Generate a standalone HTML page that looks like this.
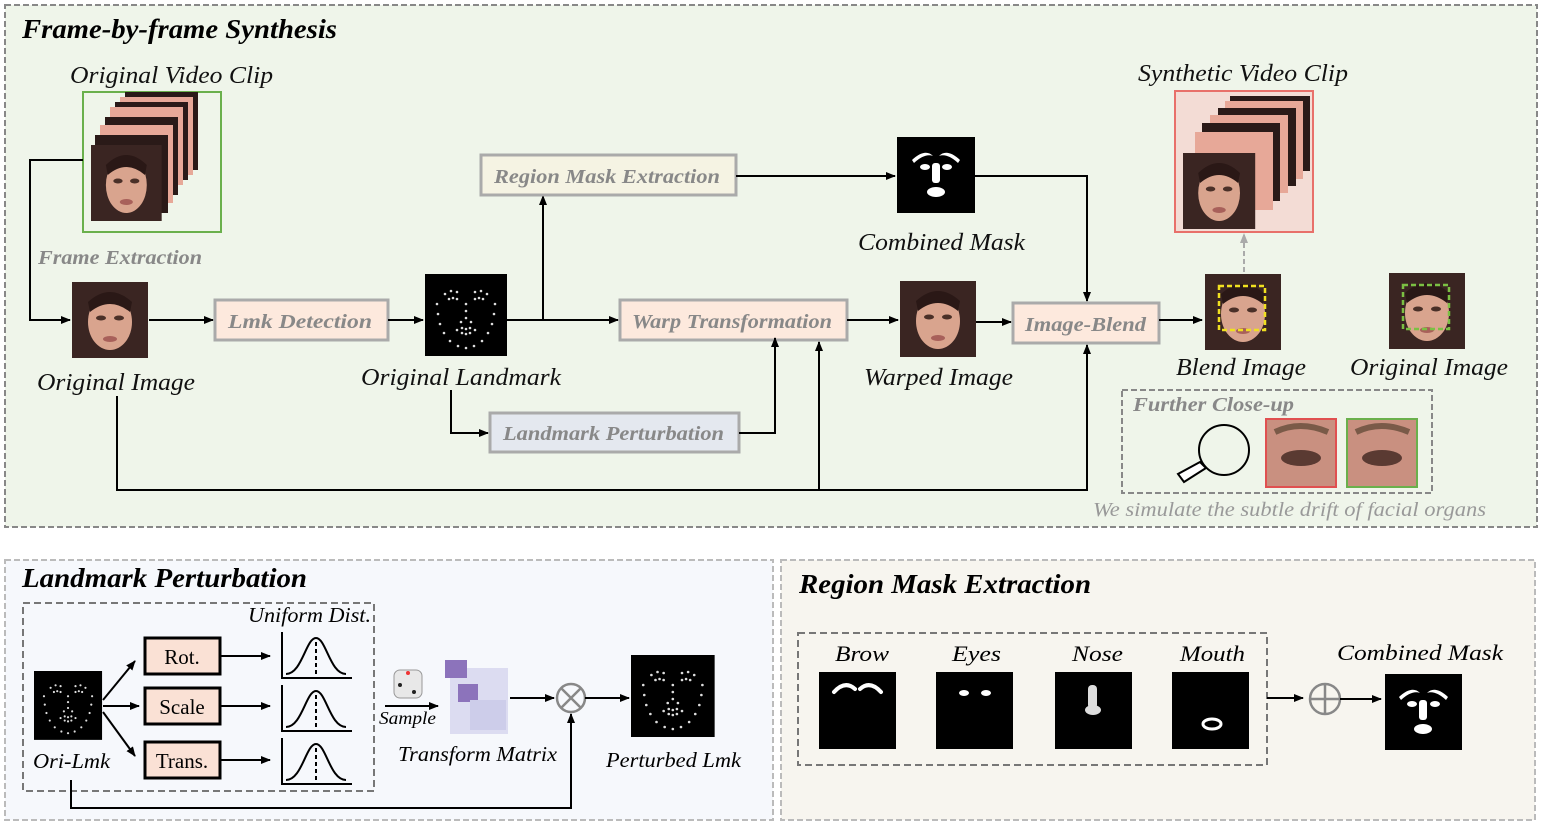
<!DOCTYPE html>
<html><head><meta charset="utf-8"><style>
html,body{margin:0;padding:0;background:#fff}
svg{display:block}
text{font-family:"Liberation Serif",serif;font-style:italic}
.t{font-size:24px;fill:#111}
.b{font-weight:bold;fill:#888;font-size:20px}
.h{font-weight:bold;font-size:27px;fill:#000}
.n{font-style:normal;font-size:21px;fill:#000}
</style></head><body>
<svg width="1550" height="831" viewBox="0 0 1550 831" xmlns="http://www.w3.org/2000/svg">
<defs>
<marker id="a" markerWidth="10" markerHeight="10" refX="9" refY="5" orient="auto" markerUnits="userSpaceOnUse"><path d="M0,1 L10,5 L0,9 z" fill="#000"/></marker>
<marker id="g" markerWidth="10" markerHeight="10" refX="9" refY="5" orient="auto" markerUnits="userSpaceOnUse"><path d="M0,1 L10,5 L0,9 z" fill="#aaa"/></marker>
<g id="face">
<rect width="76" height="76" fill="#3a2522"/>
<ellipse cx="38" cy="40" rx="22" ry="28" fill="#d9a48e"/>
<path d="M16,20 Q38,0 60,20 L58,30 Q38,14 18,30z" fill="#2a1816"/>
<ellipse cx="29" cy="36" rx="5" ry="2.5" fill="#4a3028"/><ellipse cx="47" cy="36" rx="5" ry="2.5" fill="#4a3028"/>
<ellipse cx="38" cy="57" rx="7" ry="3" fill="#a8605a"/>
</g>
<g id="lmk" fill="#fff">
<rect width="82" height="82" fill="#000"/>
<g fill="#ddd">
<circle cx="12" cy="30" r="1.3"/><circle cx="13" cy="40" r="1.3"/><circle cx="15" cy="50" r="1.3"/><circle cx="19" cy="59" r="1.3"/><circle cx="25" cy="67" r="1.3"/><circle cx="33" cy="72" r="1.3"/><circle cx="41" cy="74" r="1.3"/><circle cx="49" cy="72" r="1.3"/><circle cx="57" cy="67" r="1.3"/><circle cx="63" cy="59" r="1.3"/><circle cx="67" cy="50" r="1.3"/><circle cx="69" cy="40" r="1.3"/><circle cx="70" cy="30" r="1.3"/>
<circle cx="20" cy="20" r="1.3"/><circle cx="26" cy="17" r="1.3"/><circle cx="32" cy="18" r="1.3"/><circle cx="50" cy="18" r="1.3"/><circle cx="56" cy="17" r="1.3"/><circle cx="62" cy="20" r="1.3"/>
<circle cx="24" cy="25" r="1.3"/><circle cx="28" cy="24" r="1.3"/><circle cx="32" cy="25" r="1.3"/><circle cx="50" cy="25" r="1.3"/><circle cx="54" cy="24" r="1.3"/><circle cx="58" cy="25" r="1.3"/>
<circle cx="41" cy="30" r="1.3"/><circle cx="41" cy="37" r="1.3"/><circle cx="41" cy="44" r="1.3"/><circle cx="36" cy="48" r="1.3"/><circle cx="46" cy="48" r="1.3"/>
<circle cx="32" cy="56" r="1.3"/><circle cx="37" cy="54" r="1.3"/><circle cx="41" cy="55" r="1.3"/><circle cx="45" cy="54" r="1.3"/><circle cx="50" cy="56" r="1.3"/><circle cx="37" cy="59" r="1.3"/><circle cx="41" cy="60" r="1.3"/><circle cx="45" cy="59" r="1.3"/>
</g></g>
<g id="gau"><path d="M2,0 V46 H72" fill="none" stroke="#000" stroke-width="2"/><path d="M6,42 C22,42 26,6 36,6 C46,6 50,42 66,42" fill="none" stroke="#000" stroke-width="2"/><path d="M36,10 V42" stroke="#000" stroke-width="2" stroke-dasharray="4,3"/></g>
</defs>

<!-- top panel -->
<rect x="5" y="5" width="1532" height="522" fill="#eff5ea" stroke="#888" stroke-width="2" stroke-dasharray="6,3"/>
<text x="22" y="38" class="h" textLength="315" lengthAdjust="spacingAndGlyphs">Frame-by-frame Synthesis</text>
<text x="70" y="83" class="t" textLength="203" lengthAdjust="spacingAndGlyphs">Original Video Clip</text>
<rect x="83" y="92" width="138" height="140" fill="#eff5ea" stroke="#6ab04c" stroke-width="2"/>
<g><rect x="125" y="92" width="73" height="78" fill="#2a1a18"/><rect x="120" y="97" width="73" height="78" fill="#e7a898"/><rect x="115" y="102" width="73" height="78" fill="#2a1a18"/><rect x="110" y="107" width="73" height="78" fill="#e7a898"/><rect x="105" y="117" width="73" height="78" fill="#2a1a18"/><rect x="100" y="125" width="73" height="78" fill="#e7a898"/><rect x="95" y="135" width="73" height="78" fill="#2a1a18"/>
<use href="#face" transform="translate(91,145) scale(0.93,1)"/></g>
<path d="M83,160 H30 V320 H70" fill="none" stroke="#000" stroke-width="2" marker-end="url(#a)"/>
<text x="38" y="264" class="b" textLength="164" lengthAdjust="spacingAndGlyphs">Frame Extraction</text>
<use href="#face" x="72" y="282"/>
<text x="37" y="390" class="t" textLength="158" lengthAdjust="spacingAndGlyphs">Original Image</text>
<path d="M149,320 H213" stroke="#000" stroke-width="2" marker-end="url(#a)"/>
<rect x="215" y="300" width="173" height="40" fill="#fde9dd" stroke="#aaa" stroke-width="3"/>
<text x="228" y="328" class="b" textLength="144" lengthAdjust="spacingAndGlyphs">Lmk Detection</text>
<path d="M388,320 H423" stroke="#000" stroke-width="2" marker-end="url(#a)"/>
<use href="#lmk" x="425" y="274"/>
<text x="361" y="385" class="t" textLength="200" lengthAdjust="spacingAndGlyphs">Original Landmark</text>
<path d="M507,320 H618" stroke="#000" stroke-width="2" marker-end="url(#a)"/>
<path d="M543,320 V196" stroke="#000" stroke-width="2" marker-end="url(#a)"/>
<rect x="481" y="155" width="255" height="40" fill="#f5f3e3" stroke="#aaa" stroke-width="3"/>
<text x="494" y="183" class="b" textLength="226" lengthAdjust="spacingAndGlyphs">Region Mask Extraction</text>
<path d="M736,176 H895" stroke="#000" stroke-width="2" marker-end="url(#a)"/>
<rect x="897" y="137" width="78" height="76" fill="#000"/>
<g fill="#fff"><path d="M912,160 Q925,148 933,156 Q925,153 914,163z"/><path d="M960,160 Q947,148 939,156 Q947,153 958,163z"/><ellipse cx="925" cy="167" rx="5" ry="3"/><ellipse cx="947" cy="167" rx="5" ry="3"/><rect x="932" y="163" width="8" height="20" rx="3"/><ellipse cx="936" cy="192" rx="9" ry="5"/></g>
<text x="858" y="250" class="t" textLength="167" lengthAdjust="spacingAndGlyphs">Combined Mask</text>
<path d="M975,176 H1087 V301" fill="none" stroke="#000" stroke-width="2" marker-end="url(#a)"/>
<rect x="620" y="300" width="227" height="40" fill="#fde9dd" stroke="#aaa" stroke-width="3"/>
<text x="632" y="328" class="b" textLength="200" lengthAdjust="spacingAndGlyphs">Warp Transformation</text>
<path d="M847,320 H898" stroke="#000" stroke-width="2" marker-end="url(#a)"/>
<use href="#face" x="900" y="281"/>
<text x="864" y="385" class="t" textLength="149" lengthAdjust="spacingAndGlyphs">Warped Image</text>
<path d="M976,322 H1011" stroke="#000" stroke-width="2" marker-end="url(#a)"/>
<rect x="1013" y="303" width="146" height="40" fill="#fde9dd" stroke="#aaa" stroke-width="3"/>
<text x="1025" y="331" class="b" textLength="121" lengthAdjust="spacingAndGlyphs">Image-Blend</text>
<path d="M1159,320 H1202" stroke="#000" stroke-width="2" marker-end="url(#a)"/>
<use href="#face" x="1205" y="274"/>
<rect x="1219" y="286" width="46" height="44" fill="none" stroke="#f0e020" stroke-width="2.5" stroke-dasharray="5,3"/>
<path d="M1244,272 V234" stroke="#aaa" stroke-width="2" stroke-dasharray="5,3" marker-end="url(#g)"/>
<text x="1176" y="375" class="t" textLength="130" lengthAdjust="spacingAndGlyphs">Blend Image</text>
<text x="1138" y="81" class="t" textLength="210" lengthAdjust="spacingAndGlyphs">Synthetic Video Clip</text>
<rect x="1175" y="91" width="138" height="141" fill="#f3dcd5" stroke="#e8706a" stroke-width="2"/>
<g><rect x="1230" y="96" width="80" height="75" fill="#2a1a18"/><rect x="1225" y="101" width="78" height="78" fill="#e7a898"/><rect x="1218" y="108" width="78" height="78" fill="#2a1a18"/><rect x="1210" y="115" width="78" height="78" fill="#e7a898"/><rect x="1202" y="123" width="78" height="78" fill="#2a1a18"/><rect x="1195" y="132" width="78" height="78" fill="#e7a898"/>
<use href="#face" transform="translate(1183,153) scale(0.95,1)"/></g>
<use href="#face" x="1389" y="273"/>
<rect x="1403" y="285" width="46" height="44" fill="none" stroke="#7bc043" stroke-width="2.5" stroke-dasharray="5,3"/>
<text x="1350" y="375" class="t" textLength="158" lengthAdjust="spacingAndGlyphs">Original Image</text>
<path d="M451,390 V433 H488" fill="none" stroke="#000" stroke-width="2" marker-end="url(#a)"/>
<rect x="490" y="413" width="249" height="39" fill="#e4e8ef" stroke="#aaa" stroke-width="3"/>
<text x="503" y="440" class="b" textLength="221" lengthAdjust="spacingAndGlyphs">Landmark Perturbation</text>
<path d="M739,433 H775 V338" fill="none" stroke="#000" stroke-width="2" marker-end="url(#a)"/>
<path d="M117,396 V490 H1087 V345" fill="none" stroke="#000" stroke-width="2" marker-end="url(#a)"/>
<path d="M819,490 V342" fill="none" stroke="#000" stroke-width="2" marker-end="url(#a)"/>
<rect x="1122" y="390" width="310" height="103" fill="none" stroke="#888" stroke-width="2" stroke-dasharray="6,3"/>
<text x="1133" y="411" class="b" textLength="161" lengthAdjust="spacingAndGlyphs">Further Close-up</text>
<circle cx="1224" cy="450" r="25" fill="none" stroke="#000" stroke-width="2"/>
<path d="M1206,468 L1184,482 L1178,474 L1200,462z" fill="#fff" stroke="#000" stroke-width="2"/>
<rect x="1266" y="419" width="70" height="68" fill="#c99080" stroke="#e05050" stroke-width="2"/>
<ellipse cx="1301" cy="458" rx="20" ry="8" fill="#5a3a32"/><path d="M1275,432 Q1300,420 1328,432" stroke="#7a5a48" stroke-width="6" fill="none"/>
<rect x="1347" y="419" width="70" height="68" fill="#c99080" stroke="#6ab04c" stroke-width="2"/>
<ellipse cx="1382" cy="458" rx="20" ry="8" fill="#5a3a32"/><path d="M1356,432 Q1381,420 1409,432" stroke="#7a5a48" stroke-width="6" fill="none"/>
<text x="1093" y="516" style="font-size:20px;fill:#999" textLength="393" lengthAdjust="spacingAndGlyphs">We simulate the subtle drift of facial organs</text>

<!-- bottom left -->
<rect x="5" y="560" width="768" height="260" fill="#f6f8fc" stroke="#bbb" stroke-width="2" stroke-dasharray="6,3"/>
<text x="22" y="587" class="h" textLength="285" lengthAdjust="spacingAndGlyphs">Landmark Perturbation</text>
<rect x="23" y="603" width="351" height="188" fill="none" stroke="#777" stroke-width="2" stroke-dasharray="7,4"/>
<text x="248" y="622" style="font-size:21px;fill:#000" textLength="123" lengthAdjust="spacingAndGlyphs">Uniform Dist.</text>
<use href="#lmk" transform="translate(34,671) scale(0.83,0.84)"/>
<text x="33" y="768" style="font-size:21px;fill:#000" textLength="77" lengthAdjust="spacingAndGlyphs">Ori-Lmk</text>
<path d="M103,700 L135,661" stroke="#000" stroke-width="2" marker-end="url(#a)"/>
<path d="M103,706 H139" stroke="#000" stroke-width="2" marker-end="url(#a)"/>
<path d="M103,712 L135,756" stroke="#000" stroke-width="2" marker-end="url(#a)"/>
<rect x="145" y="638" width="75" height="36" fill="#fae1d5" stroke="#000" stroke-width="3"/><text x="182" y="664" class="n" text-anchor="middle">Rot.</text>
<rect x="145" y="688" width="75" height="36" fill="#fae1d5" stroke="#000" stroke-width="3"/><text x="182" y="714" class="n" text-anchor="middle">Scale</text>
<rect x="145" y="742" width="75" height="36" fill="#fae1d5" stroke="#000" stroke-width="3"/><text x="182" y="768" class="n" text-anchor="middle">Trans.</text>
<path d="M220,656 H270" stroke="#000" stroke-width="2" marker-end="url(#a)"/>
<path d="M220,706 H270" stroke="#000" stroke-width="2" marker-end="url(#a)"/>
<path d="M220,760 H270" stroke="#000" stroke-width="2" marker-end="url(#a)"/>
<use href="#gau" x="280" y="632"/>
<use href="#gau" x="280" y="685"/>
<use href="#gau" x="280" y="738"/>
<rect x="394" y="670" width="28" height="28" rx="6" fill="#e8e8e8" stroke="#999"/><circle cx="408" cy="673" r="2" fill="#e33"/><circle cx="400" cy="685" r="2" fill="#222"/><circle cx="414" cy="692" r="2" fill="#222"/>
<path d="M385,706 H438" stroke="#000" stroke-width="2" marker-end="url(#a)"/>
<text x="379" y="724" style="font-size:18px;fill:#000" textLength="57" lengthAdjust="spacingAndGlyphs">Sample</text>
<g opacity="0.85"><rect x="450" y="668" width="58" height="66" fill="#d8d8f0"/><rect x="445" y="660" width="22" height="18" fill="#7a5cb0"/><rect x="458" y="684" width="20" height="18" fill="#7a5cb0"/><rect x="470" y="700" width="36" height="30" fill="#c6c6e8"/></g>
<text x="398" y="761" style="font-size:21px;fill:#000" textLength="159" lengthAdjust="spacingAndGlyphs">Transform Matrix</text>
<path d="M510,698 H554" stroke="#000" stroke-width="2" marker-end="url(#a)"/>
<circle cx="571" cy="698" r="14" fill="none" stroke="#888" stroke-width="2.5"/><path d="M561,688 L581,708 M581,688 L561,708" stroke="#888" stroke-width="2.5"/>
<path d="M585,698 H629" stroke="#000" stroke-width="2" marker-end="url(#a)"/>
<use href="#lmk" transform="translate(631,655) scale(1.02,1)"/>
<text x="606" y="767" style="font-size:21px;fill:#000" textLength="135" lengthAdjust="spacingAndGlyphs">Perturbed Lmk</text>
<path d="M71,780 V808 H571 V714" fill="none" stroke="#000" stroke-width="2" marker-end="url(#a)"/>

<!-- bottom right -->
<rect x="781" y="560" width="754" height="260" fill="#f7f5ef" stroke="#bbb" stroke-width="2" stroke-dasharray="6,3"/>
<text x="799" y="593" class="h" textLength="292" lengthAdjust="spacingAndGlyphs">Region Mask Extraction</text>
<rect x="798" y="633" width="469" height="132" fill="none" stroke="#777" stroke-width="2" stroke-dasharray="7,4"/>
<text x="835" y="661" style="font-size:22px;fill:#000" textLength="54" lengthAdjust="spacingAndGlyphs">Brow</text>
<text x="952" y="661" style="font-size:22px;fill:#000" textLength="49" lengthAdjust="spacingAndGlyphs">Eyes</text>
<text x="1072" y="661" style="font-size:22px;fill:#000" textLength="51" lengthAdjust="spacingAndGlyphs">Nose</text>
<text x="1180" y="661" style="font-size:22px;fill:#000" textLength="65" lengthAdjust="spacingAndGlyphs">Mouth</text>
<rect x="819" y="672" width="77" height="77" fill="#000"/><path d="M834,692 Q845,680 855,689 M881,692 Q870,680 860,689" stroke="#fff" stroke-width="4" fill="none" stroke-linecap="round"/>
<rect x="936" y="672" width="77" height="77" fill="#000"/><ellipse cx="964" cy="693" rx="5" ry="3" fill="#fff"/><ellipse cx="986" cy="693" rx="5" ry="3" fill="#fff"/>
<rect x="1055" y="672" width="77" height="77" fill="#000"/><rect x="1088" y="685" width="9" height="24" rx="4" fill="#ddd"/><ellipse cx="1093" cy="710" rx="8" ry="5" fill="#ddd"/>
<rect x="1172" y="672" width="77" height="77" fill="#000"/><ellipse cx="1212" cy="724" rx="9" ry="5" fill="none" stroke="#fff" stroke-width="3"/>
<path d="M1267,698 H1303" stroke="#000" stroke-width="2" marker-end="url(#a)"/>
<circle cx="1325" cy="699" r="15" fill="none" stroke="#888" stroke-width="2.5"/><path d="M1310,699 H1340 M1325,684 V714" stroke="#888" stroke-width="2.5"/>
<path d="M1340,699 H1381" stroke="#000" stroke-width="2" marker-end="url(#a)"/>
<text x="1337" y="660" style="font-size:22px;fill:#000" textLength="166" lengthAdjust="spacingAndGlyphs">Combined Mask</text>
<rect x="1385" y="674" width="77" height="76" fill="#000"/>
<g fill="#fff"><path d="M1399,697 Q1412,685 1420,693 Q1412,690 1401,700z"/><path d="M1448,697 Q1435,685 1427,693 Q1435,690 1446,700z"/><ellipse cx="1412" cy="704" rx="5" ry="3"/><ellipse cx="1435" cy="704" rx="5" ry="3"/><rect x="1419" y="700" width="8" height="20" rx="3"/><ellipse cx="1423" cy="729" rx="9" ry="5"/></g>
</svg>
</body></html>
